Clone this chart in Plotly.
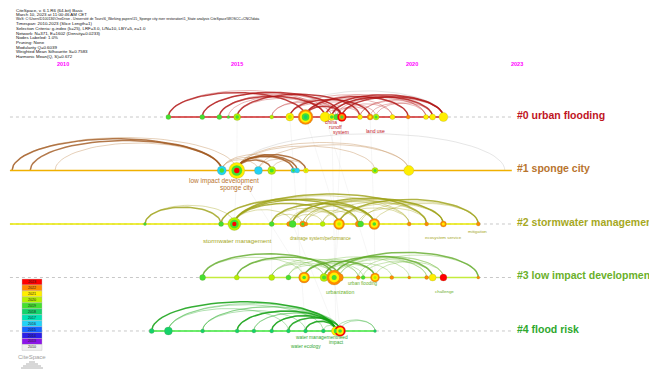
import numpy as np
import plotly.graph_objects as go

# ---------------------------------------------------------------- data
YEAR_TICKS = [2010, 2015, 2020, 2023]

LEGEND_YEARS = [2023, 2022, 2021, 2020, 2019, 2018, 2017, 2016, 2015, 2014, 2013, 2010]
LEGEND_COLORS = ["#ff0000", "#ff8a00", "#ffee00", "#b6f000", "#44e030", "#14d26a",
                 "#00e2b4", "#22d2f6", "#1464ff", "#2a1ee6", "#8c14e8", "#efefef"]

HEADER_LINES = [
    "CiteSpace, v. 6.1.R6 (64-bit) Basic",
    "March 10, 2023 at 11:00:46 AM CET",
    "WoS: C:\\Users\\D100136\\OneDrive - Université de Tours\\6_Working papers\\15_Sponge city river restoration\\1_State analysis CiteSpace\\WOSCC+CNCI\\data",
    "Timespan: 2010-2023 (Slice Length=1)",
    "Selection Criteria: g-index (k=25), LRF=3.0, L/N=10, LBY=5, e=1.0",
    "Network: N=371, E=1602 (Density=0.0233)",
    "Nodes Labeled: 1.0%",
    "Pruning: None",
    "Modularity Q=0.6039",
    "Weighted Mean Silhouette S=0.7583",
    "Harmonic Mean(Q, S)=0.672",
]

CLUSTER_NAMES = ["#0 urban flooding", "#1 sponge city", "#2 stormwater management",
                 "#3 low impact development", "#4 flood risk"]

# cluster #0 urban flooding
C0_YEARS = [2013.02, 2013.99, 2014.48, 2014.74, 2014.99, 2015.98, 2016.50, 2016.95, 2017.51, 2017.70,
            2017.84, 2017.99, 2018.51, 2018.80, 2018.97, 2019.44, 2019.89, 2020.40, 2020.59, 2020.90]
C0_SIZES = [5, 5, 5, 3, 7, 4, 8, 15, 10, 7, 6, 9, 5, 6, 6, 5, 4, 5, 6, 9]
C0_RINGS = [[2019], [2019], [2019], [2019], [2020, 2019], [2020], [2021, 2020], [2022, 2021, 2019, 2018],
            [2021], [2021, 2019], [2019], [2023, 2022, 2019], [2021], [2022, 2021], [2020, 2019],
            [2021], [2022], [2021], [2021], [2021]]
C0_LINKS_STRONG = [(0, 7), (1, 11), (2, 8), (4, 12), (7, 16), (8, 19), (11, 19), (6, 13), (9, 18), (7, 11)]
C0_LINKS_FAINT = [(0, 8), (1, 10), (3, 9), (2, 11), (4, 8), (5, 11), (6, 11), (7, 13), (7, 17), (8, 14),
                  (10, 19), (12, 19), (11, 15), (13, 17), (14, 18), (8, 11), (9, 12), (10, 13), (5, 9),
                  (7, 15), (12, 18), (6, 16), (9, 17)]

# cluster #1 sponge city
C1_YEARS = [2008.54, 2009.06, 2009.77, 2014.55, 2014.98, 2015.60, 2015.98, 2016.60, 2016.71, 2016.96,
            2018.94, 2019.91, 2022.66]
C1_SIZES = [0, 0, 0, 9, 16, 8, 8, 5, 5, 5, 6, 10, 0]
C1_RINGS = [[2010], [2010], [2010], [2016, 2019], [2021, 2019, 2023], [2016], [2020, 2019], [2016, 2019],
            [2016], [2021, 2020], [2020, 2019], [2021], [2010]]
C1_LINKS_STRONG = [(0, 3), (1, 3), (4, 7), (4, 8), (4, 9), (4, 6)]
C1_LINKS_FAINT = [(2, 3), (0, 4), (3, 6), (3, 7), (5, 8), (6, 9), (4, 10), (4, 11), (5, 11), (3, 5)]

# cluster #2 stormwater management
C2_YEARS = [2012.35, 2014.53, 2014.91, 2015.98, 2016.48, 2016.58, 2016.87, 2016.96, 2017.44, 2017.91,
            2018.46, 2018.53, 2018.92, 2019.92, 2020.42, 2020.90, 2021.90]
C2_SIZES = [3, 5, 13, 5, 5, 7, 6, 4, 5, 11, 6, 6, 11, 4, 4, 6, 4]
C2_RINGS = [[2019], [2019], [2020, 2019, 2023], [2019], [2022], [2019], [2022, 2019], [2022], [2020],
            [2022, 2021, 2020], [2022], [2019], [2022, 2021, 2019], [2022], [2022], [2022, 2021], [2022]]
C2_LINKS_STRONG = [(0, 1), (2, 12), (2, 14), (1, 10), (3, 12), (5, 15), (9, 16), (2, 9)]
C2_LINKS_FAINT = [(0, 2), (1, 12), (2, 13), (3, 9), (5, 12), (5, 14), (6, 14), (6, 15), (8, 15), (9, 15),
                  (11, 16), (12, 16), (4, 9), (7, 10), (5, 8), (3, 6), (8, 12), (2, 5), (9, 13), (10, 14),
                  (4, 13), (7, 15)]

# cluster #3 low impact development
C3_YEARS = [2014.00, 2014.98, 2015.98, 2016.46, 2016.91, 2017.48, 2017.77, 2017.92, 2018.46, 2018.60,
            2018.94, 2019.42, 2019.92, 2020.42, 2020.59, 2020.90, 2021.90]
C3_SIZES = [6, 5, 6, 5, 11, 8, 15, 8, 4, 4, 9, 4, 3, 4, 7, 7, 3]
C3_RINGS = [[2019], [2020], [2020], [2019], [2022, 2021, 2019], [2020, 2019], [2022, 2021, 2019], [2022],
            [2022], [2019], [2022, 2021, 2020], [2022], [2022], [2022], [2021], [2023], [2022]]
C3_LINKS_STRONG = [(0, 6), (1, 7), (6, 16), (5, 14), (4, 10)]
C3_LINKS_FAINT = [(2, 8), (3, 10), (4, 12), (5, 13), (6, 15), (7, 15), (8, 16), (4, 9), (2, 6), (3, 6),
                  (0, 4), (1, 5), (2, 5), (6, 11), (9, 14), (10, 15), (7, 13), (4, 8), (5, 10)]

# cluster #4 flood risk
C4_YEARS = [2012.54, 2013.02, 2014.00, 2014.99, 2015.47, 2015.98, 2016.46, 2016.95, 2017.46, 2017.82,
            2017.94, 2018.94]
C4_SIZES = [5, 8, 4, 4, 4, 4, 4, 4, 4, 9, 11, 3]
C4_RINGS = [[2018], [2018], [2018], [2018], [2018], [2018], [2018], [2018], [2018], [2021, 2019],
            [2023, 2021, 2019], [2018]]
C4_LINKS_STRONG = [(0, 9), (3, 9), (5, 9), (6, 10), (7, 9)]
C4_LINKS_FAINT = [(1, 9), (2, 9), (4, 9), (8, 9), (2, 10), (3, 10), (1, 8), (5, 10), (7, 10), (9, 11),
                  (10, 11), (4, 10), (1, 6), (2, 7)]

# very light arcs: (cluster, node, node)
GREY_ARCS = [(1, 4, 12), (0, 6, 19)]

# faint links between clusters: (cluster, node, cluster, node)
CROSS_LINKS = [(0, 7, 2, 9), (0, 11, 3, 6), (0, 8, 3, 10), (1, 4, 2, 2), (1, 4, 3, 4), (0, 4, 1, 4),
               (2, 9, 3, 6), (2, 12, 3, 10), (3, 6, 4, 10), (0, 6, 4, 7), (0, 13, 2, 12), (1, 6, 3, 2),
               (2, 5, 4, 9), (0, 9, 4, 9), (1, 9, 2, 7), (0, 16, 3, 12)]

# ---------------------------------------------------------------- styling
FIG_W, FIG_H = 649, 371
X_RANGE = [2008.195, 2026.791]
Y_RANGE = [4.748, -2.187]
PX_PER_YEAR = FIG_W / (X_RANGE[1] - X_RANGE[0])
PX_PER_ROW = FIG_H / (Y_RANGE[0] - Y_RANGE[1])
FONT = "Liberation Sans, Arial, sans-serif"

LABEL_COLORS = ["#c0141e", "#b8742e", "#a6a81e", "#6ab02a", "#2ea82e"]
BASE_COLORS = ["#d02a2a", "#f0b000", "#e8e800", "#c4ec3c", "#3ee83e"]
BASE_SPANS = [(2013.02, 2020.90), (2008.48, 2022.86), (2008.48, 2021.90), (2014.00, 2021.90), (2012.54, 2018.94)]
ARC_STRONG = ["rgba(176,20,20,0.80)", "rgba(160,88,30,0.80)", "rgba(156,160,20,0.80)",
              "rgba(96,170,40,0.80)", "rgba(16,160,16,0.85)"]
ARC_FAINT = ["rgba(190,40,40,0.35)", "rgba(200,150,100,0.45)", "rgba(170,170,40,0.40)",
             "rgba(120,190,70,0.40)", "rgba(60,180,60,0.40)"]

CLUSTERS = [
    (C0_YEARS, C0_SIZES, C0_RINGS, C0_LINKS_STRONG, C0_LINKS_FAINT),
    (C1_YEARS, C1_SIZES, C1_RINGS, C1_LINKS_STRONG, C1_LINKS_FAINT),
    (C2_YEARS, C2_SIZES, C2_RINGS, C2_LINKS_STRONG, C2_LINKS_FAINT),
    (C3_YEARS, C3_SIZES, C3_RINGS, C3_LINKS_STRONG, C3_LINKS_FAINT),
    (C4_YEARS, C4_SIZES, C4_RINGS, C4_LINKS_STRONG, C4_LINKS_FAINT),
]

# keyword labels: (cluster, text, x year, vertical offset in px below the timeline, font size, anchor)
KEYWORDS = [
    (0, "china", 2017.68, 5, 5, "center"), (0, "runoff", 2017.82, 10, 5, "center"),
    (0, "system", 2017.96, 15, 5, "center"), (0, "land use", 2018.94, 14, 5, "center"),
    (1, "low impact development", 2014.61, 11, 6.5, "center"), (1, "sponge city", 2014.98, 18, 6.5, "center"),
    (2, "stormwater management", 2014.99, 17, 6.2, "center"),
    (2, "drainage system/performance", 2017.39, 15, 4.6, "center"),
    (2, "ecosystem service", 2020.89, 14, 4.4, "center"), (2, "mitigation", 2021.89, 8, 4.4, "center"),
    (3, "urban flooding", 2018.60, 6, 4.6, "center"), (3, "urbanization", 2017.94, 15, 5.2, "center"),
    (3, "challenge", 2020.92, 14, 4.4, "center"),
    (4, "water management", 2017.28, 7, 4.8, "center"), (4, "need", 2017.79, 7, 4.8, "left"),
    (4, "impact", 2017.85, 12, 4.8, "center"), (4, "water ecology", 2016.96, 16, 4.8, "center"),
]

YEAR_COLOR = dict(zip(LEGEND_YEARS, LEGEND_COLORS))


def arc_xy(x1, x2, row):
    """Half-elliptic arc above the timeline of one cluster."""
    w_px = abs(x2 - x1) * PX_PER_YEAR
    h = 1.17 * w_px ** 0.617 / PX_PER_ROW
    t = np.linspace(0, np.pi, 40)
    xs = x1 + (x2 - x1) * (1 - np.cos(t)) / 2
    ys = row - h * np.sin(t)
    return list(xs) + [None], list(ys) + [None]


fig = go.Figure()

# faint links between clusters
cx, cy = [], []
for ca, na, cb, nb in CROSS_LINKS:
    x1, x2 = CLUSTERS[ca][0][na], CLUSTERS[cb][0][nb]
    t = np.linspace(0, 1, 20)
    cx += list(x1 + (x2 - x1) * t) + [None]
    cy += list(ca + (cb - ca) * t) + [None]
fig.add_trace(go.Scatter(x=cx, y=cy, mode="lines", line=dict(color="rgba(200,200,200,0.16)", width=1),
                         hoverinfo="skip"))

# very light long arcs
gx, gy = [], []
for c, i, j in GREY_ARCS:
    xs, ys = arc_xy(CLUSTERS[c][0][i], CLUSTERS[c][0][j], c)
    gx += xs
    gy += ys
fig.add_trace(go.Scatter(x=gx, y=gy, mode="lines", line=dict(color="rgba(200,200,200,0.45)", width=1),
                         hoverinfo="skip"))

# dotted guide lines
for c in range(5):
    fig.add_trace(go.Scatter(x=[2008.48, 2022.86], y=[c, c], mode="lines",
                             line=dict(color="#c8c8c8", width=1, dash="dot"), hoverinfo="skip"))

# arcs
for c, (yrs, sizes, rings, strong, faint) in enumerate(CLUSTERS):
    for links, color, width in ((faint, ARC_FAINT[c], 1.0), (strong, ARC_STRONG[c], 1.5)):
        ax, ay = [], []
        for i, j in links:
            xs, ys = arc_xy(yrs[i], yrs[j], c)
            ax += xs
            ay += ys
        fig.add_trace(go.Scatter(x=ax, y=ay, mode="lines", line=dict(color=color, width=width),
                                 hoverinfo="skip"))

# solid timelines
for c, (a, b) in enumerate(BASE_SPANS):
    fig.add_trace(go.Scatter(x=[a, b], y=[c, c], mode="lines",
                             line=dict(color=BASE_COLORS[c], width=1.6), hoverinfo="skip"))

# nodes as concentric year rings
for c, (yrs, sizes, rings, strong, faint) in enumerate(CLUSTERS):
    for layer in range(4):
        xs, ys, ss, cs = [], [], [], []
        for yr, sz, rg in zip(yrs, sizes, rings):
            if sz <= 0 or layer >= len(rg):
                continue
            n = len(rg)
            xs.append(yr)
            ys.append(c)
            ss.append(sz * (n - layer) / n if n > 1 else sz)
            cs.append(YEAR_COLOR[rg[layer]])
        if xs:
            fig.add_trace(go.Scatter(x=xs, y=ys, mode="markers",
                                     marker=dict(size=ss, color=cs, opacity=1,
                                                 line=dict(width=0.4 if layer == 0 else 0,
                                                           color="rgba(120,120,60,0.5)")),
                                     hoverinfo="skip"))

annotations = []
# cluster names
for c, name in enumerate(CLUSTER_NAMES):
    annotations.append(dict(x=2022.95, y=c, xref="x", yref="y", text=f"<b>{name}</b>", showarrow=False,
                            xanchor="left", yanchor="middle", yshift=2,
                            font=dict(family=FONT, size=10.5, color=LABEL_COLORS[c])))
# keywords
for c, text, xv, dy, fs, anchor in KEYWORDS:
    annotations.append(dict(x=xv, y=c, xref="x", yref="y", text=text, showarrow=False,
                            xanchor=anchor, yanchor="middle", yshift=-dy,
                            font=dict(family=FONT, size=fs, color=LABEL_COLORS[c])))
# year ticks
for yv in YEAR_TICKS:
    annotations.append(dict(x=yv, y=1 - 64.5 / FIG_H, xref="x", yref="paper", text=f"<b>{yv}</b>",
                            showarrow=False, xanchor="center", yanchor="middle",
                            font=dict(family=FONT, size=5.5, color="#ff00ff")))
# header
for k, line in enumerate(HEADER_LINES):
    annotations.append(dict(x=14 / FIG_W, y=1 - (10 + 4.65 * k) / FIG_H, xref="paper", yref="paper",
                            text=line, showarrow=False, xanchor="left", yanchor="middle",
                            font=dict(family=FONT, size=3.5 if k == 2 else 4.4, color="#111111")))

shapes = []
# year colour legend
cell_h = 5.95
top = 279.0
for k, (yv, col) in enumerate(zip(LEGEND_YEARS, LEGEND_COLORS)):
    y0 = top + k * cell_h
    shapes.append(dict(type="rect", xref="paper", yref="paper", x0=22 / FIG_W, x1=42 / FIG_W,
                       y0=1 - (y0 + cell_h) / FIG_H, y1=1 - y0 / FIG_H,
                       fillcolor=col, line=dict(width=0.4, color="#bbbbbb")))
    annotations.append(dict(x=32 / FIG_W, y=1 - (y0 + cell_h / 2) / FIG_H, xref="paper", yref="paper",
                            text=str(yv), showarrow=False, xanchor="center", yanchor="middle",
                            font=dict(family=FONT, size=3.6, color="#222222")))

# CiteSpace logo
annotations.append(dict(x=32 / FIG_W, y=1 - 357 / FIG_H, xref="paper", yref="paper", text="CiteSpace",
                        showarrow=False, xanchor="center", yanchor="middle",
                        font=dict(family=FONT, size=6, color="#a0a0a0")))
for k, half in enumerate([3, 6, 9, 11]):
    yy = 1 - (362 + 2 * k) / FIG_H
    shapes.append(dict(type="line", xref="paper", yref="paper", x0=(32 - half) / FIG_W,
                       x1=(32 + half) / FIG_W, y0=yy, y1=yy, line=dict(color="#b0b0b0", width=1)))

fig.update_layout(
    width=FIG_W, height=FIG_H, margin=dict(l=0, r=0, t=0, b=0),
    paper_bgcolor="white", plot_bgcolor="white", showlegend=False,
    xaxis=dict(range=X_RANGE, visible=False, fixedrange=True),
    yaxis=dict(range=Y_RANGE, visible=False, fixedrange=True),
    annotations=annotations, shapes=shapes,
)

fig.write_html("out.html")
